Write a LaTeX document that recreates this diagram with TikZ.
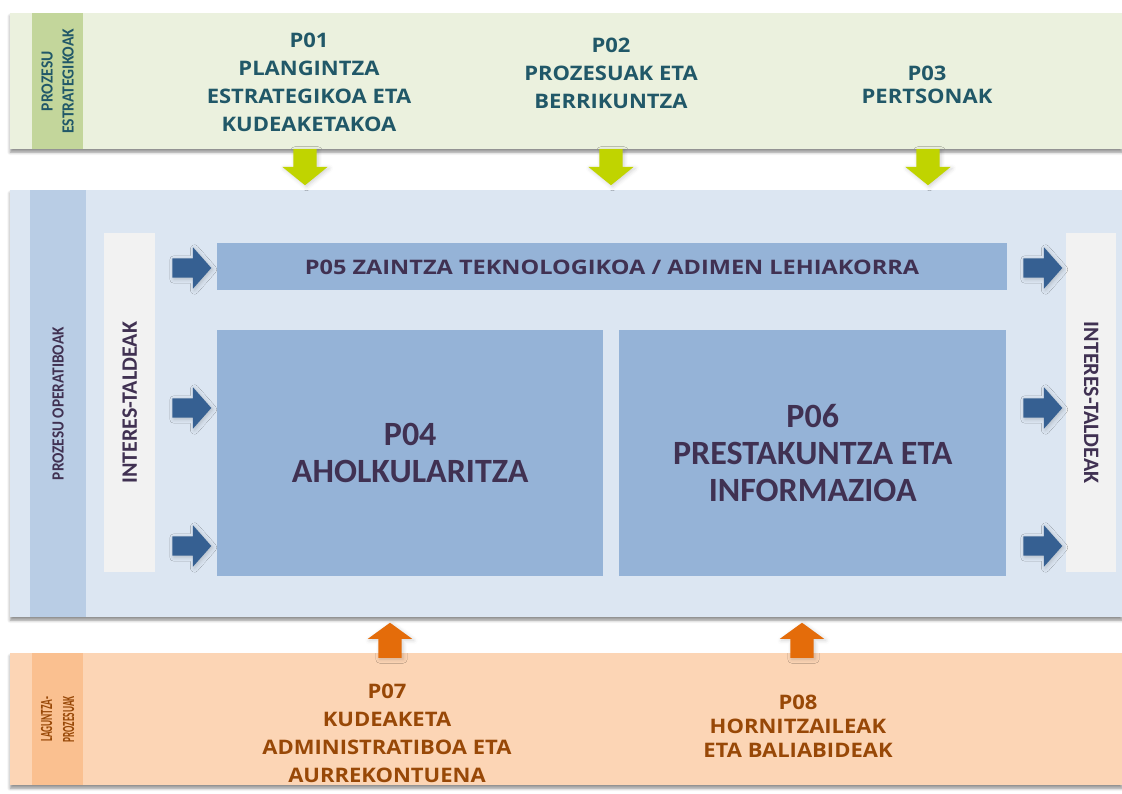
\documentclass[tikz,border=0pt]{standalone}
\usepackage{fontspec}
\setmainfont{Open Sans}
\newfontfamily\calibri{Carlito}
\usetikzlibrary{shapes.arrows,shadows.blur}

\definecolor{fondoVerde}{HTML}{EBF1DE}
\definecolor{franjaVerde}{HTML}{C3D69B}
\definecolor{textoVerde}{HTML}{215868}
\definecolor{flechaVerde}{HTML}{C0D400}
\definecolor{fondoAzul}{HTML}{DCE6F2}
\definecolor{franjaAzul}{HTML}{B9CDE5}
\definecolor{cajaAzul}{HTML}{95B3D7}
\definecolor{cajaGris}{HTML}{F2F2F2}
\definecolor{flechaAzul}{HTML}{366092}
\definecolor{textoMorado}{HTML}{403152}
\definecolor{fondoNaranja}{HTML}{FCD5B5}
\definecolor{franjaNaranja}{HTML}{FAC090}
\definecolor{flechaNaranja}{HTML}{E46C0A}
\definecolor{textoMarron}{HTML}{984807}

\tikzset{
  estilo mapa/.style={
      x=1pt, y=-1pt,
      banda/.style={anchor=north west, inner sep=0pt, minimum width=1112pt,
          blur shadow={shadow xshift=0pt, shadow yshift=-3pt, shadow blur radius=3pt, shadow opacity=45}},
      franja/.style={anchor=north west, inner sep=0pt},
      caja/.style={anchor=north west, inner sep=0pt, fill=cajaAzul},
      flecha/.style={single arrow, inner xsep=0pt, single arrow head extend=11pt,
          blur shadow={shadow xshift=1.5pt, shadow yshift=-1.5pt, shadow blur radius=4pt, shadow opacity=18}},
      flecha azul/.style={flecha, fill=flechaAzul, inner ysep=9.5pt, minimum height=39pt, single arrow tip angle=97},
      flecha verde/.style={flecha, fill=flechaVerde, inner ysep=11.5pt, minimum height=36pt, single arrow tip angle=102},
      flecha naranja/.style={flecha, fill=flechaNaranja, inner ysep=11.5pt, minimum height=35pt, single arrow head extend=10.5pt, single arrow tip angle=108},
      proceso/.style={align=center, xscale=1.1, font={\bfseries\fontsize{20}{28}\selectfont}},
      grande/.style={align=center, text=textoMorado, font={\calibri\bfseries\fontsize{34}{37}\selectfont}},
      lateral/.style={align=center, font={\calibri\bfseries\fontsize{17}{21}\selectfont}},
    },
}

\begin{document}
\begin{tikzpicture}[estilo mapa]
  \useasboundingbox (0,0) rectangle (1122,794);

  \node[banda, fill=fondoVerde, minimum height=136pt] (estr) at (10,13) {};
  \node[franja, fill=franjaVerde, minimum width=51pt, minimum height=136pt] (estrF) at (32,13) {};
  \node[lateral, text=textoVerde, rotate=90, xscale=0.92] (estrL) at (estrF.center) {PROZESU\\ESTRATEGIKOAK};

  \node[banda, fill=fondoAzul, minimum height=427pt] (oper) at (10,190) {};
  \node[franja, fill=franjaAzul, minimum width=56pt, minimum height=427pt] (operF) at (30,190) {};
  \node[lateral, text=textoMorado, rotate=90, xscale=0.9] (operL) at (operF.center) {PROZESU OPERATIBOAK};

  \node[banda, fill=fondoNaranja, minimum height=132pt] (lagu) at (10,653) {};
  \node[franja, fill=franjaNaranja, minimum width=51pt, minimum height=132pt] (laguF) at (32,653) {};
  \node[lateral, text=textoMarron, rotate=90, xscale=0.55, font={\calibri\bfseries\fontsize{17}{22}\selectfont}] (laguL) at (laguF.center) {LAGUNTZA-\\PROZESUAK};

  \node[franja, fill=cajaGris, minimum width=51pt, minimum height=339pt] (intIzq) at (104,233) {};
  \node[franja, fill=cajaGris, minimum width=50pt, minimum height=339pt] (intDer) at (1066,233) {};
  \node[lateral, text=textoMorado, rotate=90, font={\calibri\bfseries\fontsize{22}{26}\selectfont}] (intIzqL) at (intIzq.center) {INTERES-TALDEAK};
  \node[lateral, text=textoMorado, rotate=-90, font={\calibri\bfseries\fontsize{22}{26}\selectfont}] (intDerL) at (intDer.center) {INTERES-TALDEAK};

  \node[caja, minimum width=790pt, minimum height=47pt] (p05) at (217,243) {};
  \node[caja, minimum width=386pt, minimum height=246pt] (p04) at (217,330) {};
  \node[caja, minimum width=387pt, minimum height=246pt] (p06) at (619,330) {};
  \node[proceso, text=textoMorado, xscale=1.07] (p05t) at (612,267) {P05 ZAINTZA TEKNOLOGIKOA / ADIMEN LEHIAKORRA};
  \node[grande] (p04t) at (p04.center) {P04\\AHOLKULARITZA};
  \node[grande] (p06t) at (p06.center) {P06\\PRESTAKUNTZA ETA\\INFORMAZIOA};

  \foreach \y [count=\i] in {268,408,546} {
    \node[flecha azul] (fi\i) at (187.5,\y) {};
    \node[flecha azul] (fd\i) at (1038.5,\y) {};
  }
  \foreach \x [count=\i] in {305,611,928}
    \node[flecha verde, rotate=-90] (fv\i) at (\x,162.5) {};
  \foreach \x [count=\i] in {390,802}
    \node[flecha naranja, rotate=90] (fn\i) at (\x,644.5) {};

  \node[proceso, text=textoVerde] (p01) at (309,82.5) {P01\\PLANGINTZA\\ESTRATEGIKOA ETA\\KUDEAKETAKOA};
  \node[proceso, text=textoVerde] (p02) at (611,73.5) {P02\\PROZESUAK ETA\\BERRIKUNTZA};
  \node[proceso, text=textoVerde, font={\bfseries\fontsize{20}{23}\selectfont}] (p03) at (927,84.5) {P03\\PERTSONAK};
  \node[proceso, text=textoMarron] (p07) at (387,733.5) {P07\\KUDEAKETA\\ADMINISTRATIBOA ETA\\AURREKONTUENA};
  \node[proceso, text=textoMarron, font={\bfseries\fontsize{20}{24}\selectfont}] (p08) at (798,726.5) {P08\\HORNITZAILEAK\\ETA BALIABIDEAK};
\end{tikzpicture}
\end{document}
